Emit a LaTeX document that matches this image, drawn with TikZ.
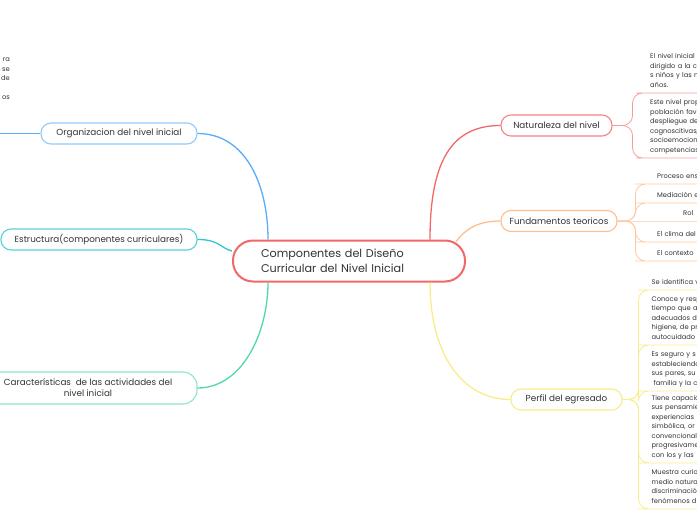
\documentclass[tikz,border=0pt]{standalone}
\usepackage{fontspec}
\setmainfont{Poppins}
\definecolor{cred}{HTML}{F26868}
\definecolor{cnat}{HTML}{F58383}
\definecolor{corg}{HTML}{FFBE8E}
\definecolor{cyel}{HTML}{FAEC8A}
\definecolor{cblu}{HTML}{58ADF6}
\definecolor{ctea}{HTML}{2EC5CC}
\definecolor{cgre}{HTML}{4FD9A9}
\definecolor{ink}{HTML}{333333}

\begin{document}
\begin{tikzpicture}[x=1pt,y=-1pt,
topic/.style={draw=#1,line width=1.1pt,rounded corners=10pt,fill=white,minimum height=21pt,inner sep=0pt,text=ink,font=\fontsize{8.8}{11}\selectfont},
sub/.style={anchor=south west,inner ysep=3.4pt,align=left,text width=90pt,text=ink,font=\fontsize{6.7}{9.5}\selectfont,execute at end node={\rule[-2pt]{0pt}{1pt}}},
link/.style={draw=#1,line width=1.3pt},
twig/.style={draw=#1,line width=0.8pt,rounded corners=10pt}]
\useasboundingbox (0,0) rectangle (697,520);
\clip (0,0) rectangle (697,520);

\node[draw=cred,line width=2pt,rounded corners=20pt,fill=white,minimum width=232pt,minimum height=41pt,text width=176pt,inner sep=0pt,align=left,text=ink,font=\fontsize{11.2}{15}\selectfont] (root) at (349,261) {Componentes del Diseño\\Curricular del Nivel Inicial};

% ramas derechas
\node[topic=cnat,minimum width=111pt] (nat) at (556.5,125.5) {Naturaleza del nivel};
\node[topic=corg,minimum width=116pt] (fun) at (559,221) {Fundamentos teoricos};
\node[topic=cyel,minimum width=111pt] (per) at (566.5,399.5) {Perfil del egresado};
% ramas izquierdas
\node[topic=cblu!65,minimum width=156pt] (org) at (119,133.5) {Organizacion del nivel inicial};
\node[topic=ctea!80,minimum width=196pt] (est) at (99,239.5) {Estructura(componentes curriculares)};
\node[topic=cgre!65,minimum width=218pt,minimum height=32pt,rounded corners=14pt,align=center] (car) at (88,388) {Características\ \ de las actividades del\\nivel inicial};
\node[anchor=north east,align=right,inner sep=0pt,text=ink,font=\fontsize{6.7}{9.5}\selectfont] (frag) at (10,58) {ra\\se\\de\\\mbox{}\\os};

\draw[link=cred] ([xshift=81pt]root.north) .. controls +(0,-80) and +(-48,0) .. (nat.west);
\draw[link=corg] ([xshift=-10pt,yshift=-2pt]root.north east) .. controls +(10,-13) and +(-22,0) .. (fun.west);
\draw[link=cyel] ([xshift=81pt]root.south) .. controls +(0,72) and +(-48,0) .. (per.west);
\draw[link=cblu] (org.east) .. controls +(48,0) and +(0,-55) .. ([xshift=-81pt]root.north);
\draw[link=cblu] (org.west) -- ++(-45,0);
\draw[link=ctea] (est.east) .. controls +(22,0) and +(-12,-3) .. ([yshift=10pt]root.west);
\draw[link=cgre] (car.east) .. controls +(45,0) and +(0,50) .. ([xshift=-81pt]root.south);

% Naturaleza del nivel
\node[sub,inner xsep=4pt] (n1) at (646,93) {El nivel inicial\\dirigido a la c\\s niños y las n\\años.};
\node[sub,inner xsep=4pt] (n2) at (646,158) {Este nivel prop\\población fav\\despliegue de\\cognoscitivas,\\socioemocion\\competencias};
\foreach \i in {n1,n2}
  \draw[twig=cnat!80] (nat.east) -- ++(20,0) |- (\i.south west) -- (\i.south east);

% Fundamentos teoricos
\foreach \i/\y/\t in {f1/184/Proceso ens,f2/203/Mediación e,f4/242/El clima del,f5/261/El contexto}{
  \node[sub,inner xsep=12pt] (\i) at (645,\y) {\t};
  \draw[twig=corg!85] (fun.east) -- ++(18,0) |- (\i.south west) -- (\i.south east);
}
\node[sub,inner xsep=38pt] (f3) at (645,221) {Rol};
\draw[twig=corg!85] (fun.east) -- (f3.south west) -- (f3.south east);

% Perfil del egresado
\node[sub,inner xsep=3.5pt] (p1) at (648,290) {Se identifica v};
\node[sub,inner xsep=3.5pt] (p2) at (648,345) {Conoce y resp\\tiempo que a\\adecuados d\\higiene, de pr\\autocuidado};
\node[sub,inner xsep=3.5pt] (p3) at (648,391) {Es seguro y s\\estableciendo\\sus pares, su\\\hspace*{2pt}familia y la c};
\node[sub,inner xsep=3.5pt] (p4) at (648,463) {Tiene capacid\\sus pensamie\\experiencias\\simbólica, or\\convencional\\progresivame\\con los y las};
\node[sub,inner xsep=3.5pt] (p5) at (648,509) {Muestra curio\\medio natura\\discriminació\\fenómenos d};
\foreach \i in {p1,p2,p3,p4,p5}
  \draw[twig=cyel] (per.east) -- ++(16,0) |- (\i.south west) -- (\i.south east);
\end{tikzpicture}
\end{document}
